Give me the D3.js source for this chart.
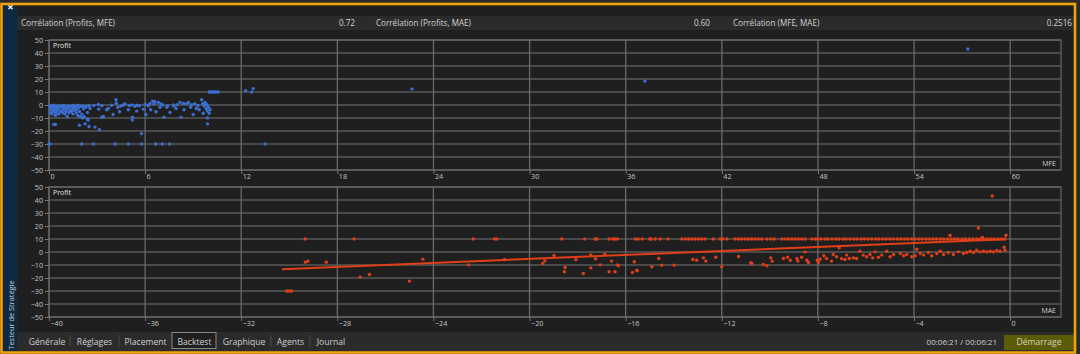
<!DOCTYPE html>
<html>
<head>
<meta charset="utf-8">
<script src="https://cdn.jsdelivr.net/npm/d3@7"></script>
<style>
  html, body { margin: 0; padding: 0; background: #2a2a2a; }
  svg { display: block; font-family: "Open Sans", "Noto Sans", sans-serif; }
</style>
</head>
<body>
<svg id="chart"></svg>
<script>
// header correlations
const corrLabels = ["Corrélation (Profits, MFE)", "Corrélation (Profits, MAE)", "Corrélation (MFE, MAE)"];
const corrValues = ["0.72", "0.60", "0.2516"];

const tabLabels = ["Générale", "Réglages", "Placement", "Backtest", "Graphique", "Agents", "Journal"];
const selectedTab = "Backtest";
const timeText = "00:06:21 / 00:06:21";
const startLabel = "Démarrage";

const yTicks = [-50, -40, -30, -20, -10, 0, 10, 20, 30, 40, 50];
const mfeTicks = [0, 6, 12, 18, 24, 30, 36, 42, 48, 54, 60];
const maeTicks = [-40, -36, -32, -28, -24, -20, -16, -12, -8, -4, 0];

// MFE vs Profit (top)
const mfePoints = [
  [0.05,-1],[0.1,-3],[0.1,-6],[0.15,-2],[0.2,-4],[0.2,-7],[0.25,-1],[0.3,-5],[0.35,-3],[0.4,-2],
  [0.4,-8],[0.45,-6],[0.5,-1],[0.5,-4],[0.55,-3],[0.6,-7],[0.65,-2],[0.7,-5],[0.75,-1],[0.8,-4],
  [0.85,-6],[0.9,-2],[0.95,-3],[1.0,-7],[1.0,-1],[1.05,-5],[1.1,-3],[1.15,-9],[1.2,-2],[1.25,-6],
  [1.3,-4],[1.35,-1],[1.4,-5],[1.45,-3],[1.5,-7],[1.55,-2],[1.6,-4],[1.65,-1],[1.7,-6],[1.75,-3],
  [1.8,-8],[1.85,-2],[1.9,-5],[1.95,-9],[2.0,-1],[2.05,-7],[2.1,-10],[2.15,-3],[2.2,-9],[2.3,-1],
  [0.1,-0.5],[0.3,-0.2],[0.6,-0.6],[0.9,-0.3],[1.2,-0.8],[1.5,-0.4],[1.8,-0.2],[2.1,-0.7],
  [2.3,-1.7],[2.4,-5.8],[2.56,-2.7],[3.08,0.4],[3.1,-3.2],[3.4,-8.8],[3.6,-3.7],[3.7,-2.7],[4.0,-7.3],
  [4.18,4],[4.2,1.4],[4.3,-1.7],[4.4,-5.2],[4.64,0],[4.74,0.9],[4.95,-3.7],[5.16,0],[5.37,-1],
  [5.47,-4.7],[5.64,-0.6],[5.9,-3.2],[6.05,-7.3],[6.2,-0.6],[6.35,-3.7],[6.47,3],[6.55,0.9],
  [6.68,-5.2],[6.82,2],[6.93,-1.7],[7.1,0],[7.18,-9.3],[7.35,-1.7],[7.55,-5.8],[7.76,0],[7.93,-2.7],
  [8.18,2],[8.24,-9.3],[8.43,-3.7],[8.6,0.9],[8.7,2],[8.84,-1.7],[9.0,-7.3],[9.1,0.9],[9.2,-2.7],
  [9.38,-3.7],[9.53,4],[9.63,-6.3],[9.68,-0.6],[9.74,2],[9.8,-2.7],[9.84,0.4],[9.88,-4.7],
  [9.95,-1.7],[10.0,-6.3],[10.05,-3.7],
  [2.5,-0.5],[2.8,-0.3],[3.3,-0.6],[3.9,-0.2],[4.5,-0.8],[5.0,-0.4],[5.5,-0.2],[6.0,0.5],[6.3,1.2],
  [6.6,2.5],[7.0,0.8],[7.4,-0.5],[7.8,-0.8],[8.0,0.3],[8.4,1.2],[8.9,0.2],[9.3,-0.4],[9.6,1.0],
  [0.3,-15],[0.4,-15],[1.9,-15.5],[2.25,-14.5],[2.45,-11.5],[2.4,-11],[2.5,-16.5],[2.87,-17],[3.14,-19],
  [5.78,-22],[5.2,-11.5],[5.22,-9.4],[3.3,-9.4],[9.9,-14.5],[9.9,-10],
  [12.28,11],[12.65,10],[12.75,12.6],[22.66,12.4],[37.2,18.5],[57.35,43.1]
];
// trades closed at target (profit 10) and at stop (profit -30)
const mfeAtTarget = [10.0, 10.1, 10.2, 10.3, 10.4, 10.55];
const mfeAtStop = [0.0, 0.06, 2.04, 2.77, 4.12, 4.95, 5.78, 6.66, 7.07, 7.53, 13.48];

// MAE vs Profit (bottom)
const maePoints = [
  [-29.33,-7.8],[-29.22,-7],[-28.46,-7.8],[-27.05,-19.3],[-26.66,-17.3],[-25.0,-22.4],[-24.44,-5.5],
  [-22.54,-9.9],[-21.04,-5.8],[-19.45,-8.8],[-19.36,-6.8],[-18.98,-2.7],[-18.52,-11.9],[-18.55,-15.2],
  [-18.07,-5.8],[-17.76,-16.5],[-17.45,-2.2],[-17.45,-12.2],[-17.25,-5.2],[-17.06,-9.9],[-16.87,-1.7],
  [-16.69,-15.2],[-16.59,-7],[-16.44,-15.2],[-16.34,-9.9],[-16.3,-10.6],[-15.72,-15.7],[-15.64,-7.5],
  [-15.54,-14],[-15.52,-14.5],[-14.91,-11.4],[-14.62,-5],[-14.5,-10.1],[-13.98,-10.1],[-13.2,-5.8],
  [-13.04,-6.3],[-12.76,-4.5],[-12.66,-7],[-12.25,-4],[-12.0,-11.4],[-11.3,-3.5],[-10.79,-8.3],
  [-10.75,-8.8],[-10.27,-9.6],[-10.12,-10.6],[-9.96,-4.5],[-9.9,-7],[-9.43,-5],[-9.26,-4],
  [-9.15,-6.3],[-8.87,-5],[-8.83,-7],[-8.67,-4],[-8.53,0.1],[-8.46,-6.3],[-8.39,-8.1],[-8.02,-6.3],
  [-7.98,-8.1],[-7.91,-5.5],[-7.75,-2.9],[-7.64,-5],[-7.43,-7],[-7.36,-1.9],[-7.22,-3.7],[-7.11,3.2],
  [-7.01,-5],[-6.87,-5.8],[-6.8,-2.4],[-6.69,-5],[-6.52,-4.5],[-6.39,-5],[-6.25,0.6],[-6.11,-2.4],
  [-5.97,-3.7],[-5.83,-1.9],[-5.72,-4.5],[-5.62,0.1],[-5.48,-4],[-5.34,-2.4],[-5.13,0.6],[-4.99,-3.7],
  [-4.85,-1.9],[-4.57,-1.2],[-4.43,-2.9],[-4.3,-1.9],[-4.09,-3.7],[-3.95,-2.9],[-3.88,2.2],[-3.74,-1.2],
  [-3.6,-2.4],[-3.4,-0.4],[-3.26,-2.9],[-3.05,-1.2],[-2.91,0.6],[-2.77,-1.9],[-2.57,-0.4],[-2.36,-1.9],
  [-2.15,0.1],[-1.94,-1.2],[-1.8,-0.4],[-1.66,0.6],[-1.52,-0.4],[-1.39,1.4],[-1.25,0.1],[-1.11,0.6],
  [-0.97,0.1],[-0.83,0.6],[-0.69,0.1],[-0.55,1.2],[-0.42,0.6],[-0.25,3.7],[-0.21,1.4],
  [-2.5,12.9],[-1.32,18.5],[-1.15,11.2],[-0.74,43.1],[-0.17,12.9]
];
const maeAtTarget = [
  -29.34, -27.3, -22.34, -21.46, -21.36, -18.66, -17.71, -17.27, -17.2, -16.69, -16.53, -16.44,
  -16.34, -15.6, -15.48, -15.31, -15.0, -14.94, -14.77, -14.56, -14.24, -13.66, -13.52, -13.38,
  -13.25, -13.11, -12.97, -12.83, -12.69, -12.35, -12.07, -11.96, -11.79, -11.45, -11.31, -11.17,
  -11.03, -10.89, -10.75, -10.61, -10.47, -10.33, -10.12, -9.96, -9.82, -9.5, -9.36, -9.22, -9.08,
  -8.94, -8.81, -8.67, -8.53, -8.25, -8.11, -8.0, -7.87, -7.7, -7.58, -7.41, -7.25, -7.12, -6.95,
  -6.82, -6.66, -6.5, -6.37, -6.2, -6.06, -5.91, -5.76, -5.6, -5.46, -5.3, -5.16, -5.0, -4.86,
  -4.7, -4.55, -4.4, -4.26, -4.1, -3.95, -3.8, -3.66, -3.5, -3.35, -3.2, -3.06, -2.9, -2.76,
  -2.6, -2.45, -2.3, -2.16, -2.0, -1.86, -1.7, -1.55, -1.4, -1.26, -1.1, -0.95, -0.8, -0.66,
  -0.5, -0.36, -0.22
];
const maeAtStop = [-30.1, -30.0, -29.9];
// regression line (MAE, Profit)
const trendLine = [[-30.3, -13.2], [-0.17, 9.9]];

const W = 1080, H = 354;
const svg = d3.select("#chart").attr("width", W).attr("height", H);

// background + frame
svg.append("rect").attr("width", W).attr("height", H).attr("fill", "#2a2a2a");
svg.append("rect").attr("x", 2).attr("y", 4).attr("width", 1073).attr("height", 348).attr("fill", "#1f1f1f");

// header row
svg.append("rect").attr("x", 17).attr("y", 16).attr("width", 1058).attr("height", 14).attr("fill", "#2b2b2b");
const headerX = [[21, 355], [376, 710], [733, 1072]];
corrLabels.forEach((lbl, i) => {
  svg.append("text").attr("x", headerX[i][0]).attr("y", 26).text(lbl)
    .attr("fill", "#d2d2d2").style("font-size", "8.1px");
  svg.append("text").attr("x", headerX[i][1]).attr("y", 26).text(corrValues[i])
    .attr("fill", "#d2d2d2").style("font-size", "8.1px").attr("text-anchor", "end");
});

function drawPanel(cfg) {
  const x = d3.scaleLinear().domain(cfg.xDomain).range([49, 1061]);
  const y = d3.scaleLinear().domain([-50, 50]).range([cfg.bottom, cfg.top]);
  const g = svg.append("g");

  // grid
  g.selectAll(".hgrid").data(yTicks).join("line")
    .attr("x1", 49).attr("x2", 1061).attr("y1", d => y(d)).attr("y2", d => y(d))
    .attr("stroke", "#585858").attr("stroke-width", 1.3);
  g.selectAll(".vgrid").data(cfg.xTicks).join("line")
    .attr("x1", d => x(d)).attr("x2", d => x(d)).attr("y1", cfg.top).attr("y2", cfg.bottom)
    .attr("stroke", "#6a6a6a").attr("stroke-width", 1.3);
  g.append("rect").attr("x", 49).attr("y", cfg.top).attr("width", 1012).attr("height", cfg.bottom - cfg.top)
    .attr("fill", "none").attr("stroke", "#666").attr("stroke-width", 1.2);

  // axes
  const ya = g.append("g").attr("transform", "translate(49,0)")
    .call(d3.axisLeft(y).tickValues(yTicks).tickSize(4).tickSizeOuter(0));
  const xa = g.append("g").attr("transform", "translate(0," + cfg.bottom + ")")
    .call(d3.axisBottom(x).tickValues(cfg.xTicks).tickSize(4).tickSizeOuter(0));
  [ya, xa].forEach(a => {
    a.select(".domain").remove();
    a.selectAll("line").attr("stroke", "#777");
    a.selectAll("text").attr("fill", "#c4c4c4").style("font-size", "7.2px").style("font-family", "\"Open Sans\", sans-serif");
  });
  ya.selectAll("text").attr("x", -6);
  xa.selectAll("text").attr("text-anchor", "start").attr("x", 1).attr("dy", "0.55em").attr("y", 5);

  g.append("text").attr("x", 53).attr("y", cfg.top + 8).text("Profit")
    .attr("fill", "#e0e0e0").style("font-size", "7px");
  g.append("text").attr("x", 1056).attr("y", cfg.bottom - 4).text(cfg.xLabel)
    .attr("fill", "#d0d0d0").style("font-size", "7px").attr("text-anchor", "end");

  const pts = cfg.points
    .concat(cfg.atTarget.map(v => [v, 10]))
    .concat(cfg.atStop.map(v => [v, -30]));

  if (cfg.trend) {
    g.append("path").datum(cfg.trend)
      .attr("d", d3.line().x(d => x(d[0])).y(d => y(d[1])))
      .attr("stroke", cfg.color).attr("stroke-width", 2).attr("fill", "none");
  }

  g.selectAll(".pt").data(pts).join("circle")
    .attr("cx", d => x(d[0])).attr("cy", d => y(d[1])).attr("r", 1.7)
    .attr("fill", cfg.color);
}

drawPanel({
  top: 40, bottom: 170, xDomain: [0, 63.17], xTicks: mfeTicks, xLabel: "MFE",
  points: mfePoints, atTarget: mfeAtTarget, atStop: mfeAtStop, color: "#3b6fd4"
});
drawPanel({
  top: 187, bottom: 317, xDomain: [-40, 2.12], xTicks: maeTicks, xLabel: "MAE",
  points: maePoints, atTarget: maeAtTarget, atStop: maeAtStop, color: "#e03f18", trend: trendLine
});

// bottom tab bar
svg.append("rect").attr("x", 17).attr("y", 332).attr("width", 1058).attr("height", 19).attr("fill", "#2b2b2b");
const tabX = [24, 70, 119, 172, 217, 271, 310, 352];
tabLabels.forEach((t, i) => {
  const sel = t === selectedTab;
  if (sel) {
    svg.append("rect").attr("x", tabX[i]).attr("y", 332.5).attr("width", tabX[i + 1] - tabX[i] - 1).attr("height", 16)
      .attr("fill", "#1f1f1f").attr("stroke", "#8a8a8a").attr("stroke-width", 1);
  } else if (i > 0 && tabLabels[i - 1] !== selectedTab) {
    svg.append("line").attr("x1", tabX[i]).attr("x2", tabX[i]).attr("y1", 335).attr("y2", 347)
      .attr("stroke", "#4a4a4a");
  }
  svg.append("text").attr("x", (tabX[i] + tabX[i + 1]) / 2).attr("y", 344.5).text(t)
    .attr("text-anchor", "middle").attr("fill", "#d0d0d0").style("font-size", "8.6px");
});
svg.append("text").attr("x", 997).attr("y", 344.5).text(timeText)
  .attr("text-anchor", "end").attr("fill", "#d0d0d0").style("font-size", "8px");
svg.append("rect").attr("x", 1004).attr("y", 335).attr("width", 70).attr("height", 15).attr("fill", "#5c5c06");
svg.append("text").attr("x", 1039).attr("y", 345).text(startLabel)
  .attr("text-anchor", "middle").attr("fill", "#d6d6c0").style("font-size", "8.6px");

// left sidebar
svg.append("rect").attr("x", 4).attr("y", 5).attr("width", 13).attr("height", 346).attr("fill", "#0d2a44");
svg.append("text").attr("x", 10.5).attr("y", 11).text("×").attr("text-anchor", "middle")
  .attr("fill", "#ffffff").style("font-size", "11px").style("font-weight", "bold");
svg.append("text").attr("transform", "translate(13.5,315) rotate(-90)").text("Testeur de Stratégie")
  .attr("text-anchor", "middle").attr("fill", "#c8ccd0").style("font-size", "7.4px");

// orange frame
svg.append("rect").attr("x", 1.5).attr("y", 4).attr("width", 1073.5).attr("height", 348.5)
  .attr("fill", "none").attr("stroke", "#f2a20c").attr("stroke-width", 2.6);
</script>
</body>
</html>
